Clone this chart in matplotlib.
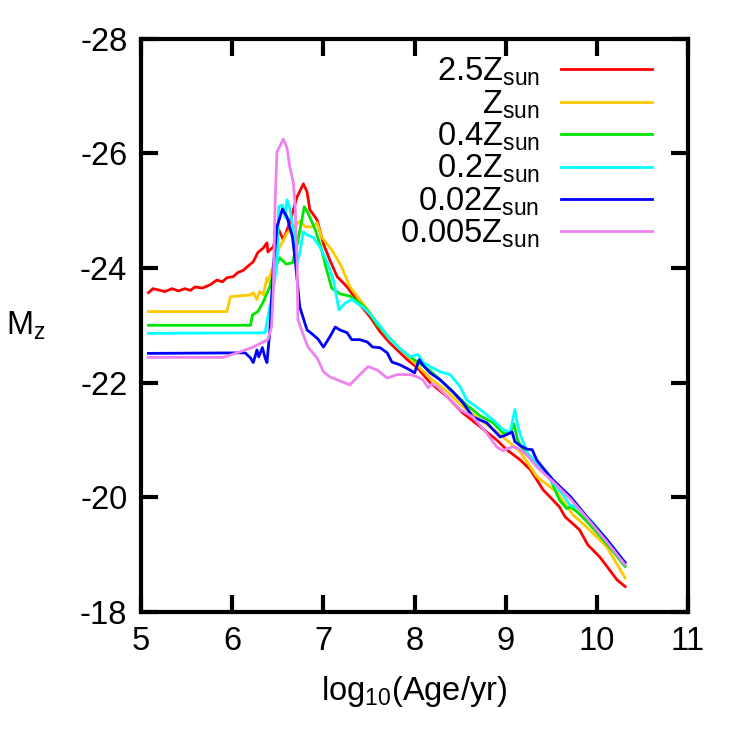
import matplotlib
matplotlib.use('Agg')
import matplotlib.pyplot as plt

plt.rcParams.update({
    'font.family': 'Liberation Sans',
    'font.size': 23.5,
    'mathtext.fontset': 'custom',
    'mathtext.rm': 'Liberation Sans',
    'mathtext.it': 'Liberation Sans',
    'axes.unicode_minus': False,
})

# metallicity labels and colours (gnuplot-like)
labels = ['2.5Z$_{\\rm sun}$', 'Z$_{\\rm sun}$', '0.4Z$_{\\rm sun}$',
          '0.2Z$_{\\rm sun}$', '0.02Z$_{\\rm sun}$', '0.005Z$_{\\rm sun}$']
colors = ['#ff0000', '#ffc800', '#00e600', '#00ffff', '#0000ff', '#ee82ee']

# 2.5 Zsun
x_z25 = [5.08, 5.13, 5.26, 5.34, 5.41, 5.48, 5.54, 5.59, 5.67, 5.76, 5.83, 5.89, 5.94,
         6.01, 6.06, 6.12, 6.17, 6.23, 6.28, 6.34, 6.38, 6.39, 6.45, 6.50, 6.56, 6.63,
         6.71, 6.78, 6.82, 6.85, 6.93, 7.00, 7.07, 7.15, 7.26, 7.40, 7.51, 7.62, 7.73,
         7.92, 8.03, 8.17, 8.36, 8.53, 8.72, 8.90, 9.01, 9.16, 9.27, 9.41, 9.59, 9.65,
         9.81, 9.90, 10.03, 10.14, 10.22, 10.25, 10.31]
m_z25 = [-23.57, -23.64, -23.59, -23.64, -23.60, -23.64, -23.61, -23.67, -23.65, -23.71,
         -23.79, -23.76, -23.83, -23.85, -23.92, -23.96, -24.03, -24.11, -24.27, -24.35,
         -24.44, -24.28, -24.37, -24.70, -24.49, -24.79, -25.24, -25.47, -25.33, -25.02,
         -24.84, -24.42, -24.14, -23.85, -23.67, -23.36, -23.15, -22.89, -22.69, -22.40,
         -22.26, -22.00, -21.75, -21.47, -21.23, -21.00, -20.83, -20.65, -20.48, -20.13,
         -19.83, -19.66, -19.43, -19.17, -18.96, -18.73, -18.56, -18.52, -18.44]

# 1 Zsun
x_z1 = [5.08, 5.94, 5.98, 6.20, 6.23, 6.27, 6.30, 6.34, 6.38, 6.39, 6.44, 6.49, 6.60,
        6.71, 6.74, 6.80, 6.89, 6.93, 6.98, 7.09, 7.20, 7.29, 7.40, 7.51, 7.62, 7.73,
        7.92, 8.17, 8.36, 8.53, 8.72, 8.90, 9.01, 9.16, 9.34, 9.56, 9.74, 9.92, 10.11,
        10.31]
m_z1 = [-23.24, -23.24, -23.50, -23.53, -23.57, -23.45, -23.59, -23.53, -23.83, -23.76,
        -24.00, -24.27, -24.61, -24.77, -24.82, -24.72, -24.72, -24.79, -24.54, -24.32,
        -24.02, -23.67, -23.45, -23.22, -22.97, -22.75, -22.47, -22.08, -21.84, -21.58,
        -21.35, -21.14, -21.00, -20.79, -20.36, -20.09, -19.69, -19.43, -19.13, -18.59]

# 0.4 Zsun
x_z04 = [5.08, 6.20, 6.22, 6.28, 6.34, 6.41, 6.47, 6.52, 6.59, 6.66, 6.71, 6.79, 6.83,
         6.91, 6.98, 7.03, 7.09, 7.18, 7.29, 7.40, 7.48, 7.59, 7.70, 7.84, 7.95, 8.06,
         8.17, 8.28, 8.42, 8.57, 8.72, 8.86, 8.97, 9.05, 9.09, 9.13, 9.21, 9.32, 9.48,
         9.54, 9.59, 9.67, 9.71, 9.78, 9.87, 10.03, 10.18, 10.31]
m_z04 = [-23.00, -23.00, -23.18, -23.24, -23.41, -23.67, -24.02, -24.18, -24.07, -24.09,
         -24.40, -25.07, -24.96, -24.67, -24.32, -24.00, -23.65, -23.55, -23.51, -23.39,
         -23.27, -23.01, -22.82, -22.59, -22.45, -22.33, -22.21, -22.05, -21.84, -21.61,
         -21.42, -21.30, -21.12, -21.12, -21.28, -21.00, -20.77, -20.62, -20.36, -20.13,
         -19.95, -19.80, -19.83, -19.75, -19.61, -19.33, -19.05, -18.79]

# 0.2 Zsun
x_z02 = [5.08, 6.36, 6.39, 6.45, 6.49, 6.51, 6.55, 6.58, 6.60, 6.63, 6.67, 6.71, 6.74,
         6.78, 6.82, 6.89, 6.96, 7.04, 7.11, 7.17, 7.24, 7.31, 7.43, 7.51, 7.62, 7.73,
         7.84, 7.95, 8.04, 8.09, 8.17, 8.28, 8.39, 8.50, 8.57, 8.72, 8.86, 8.97, 9.05,
         9.10, 9.13, 9.17, 9.24, 9.34, 9.52, 9.63, 9.70, 9.79, 9.96, 10.14, 10.31]
m_z02 = [-22.86, -22.87, -23.15, -23.62, -24.06, -25.07, -25.10, -24.88, -25.19, -25.05,
         -24.67, -24.06, -24.27, -24.63, -24.58, -24.53, -24.37, -24.11, -23.79, -23.27,
         -23.39, -23.45, -23.32, -23.20, -22.99, -22.76, -22.59, -22.45, -22.49, -22.36,
         -22.28, -22.19, -22.14, -21.93, -21.70, -21.53, -21.35, -21.18, -21.14, -21.53,
         -21.26, -21.05, -20.77, -20.60, -20.25, -20.04, -19.87, -19.81, -19.55, -19.20,
         -18.84]

# 0.02 Zsun
x_z002 = [5.08, 6.14, 6.20, 6.23, 6.27, 6.29, 6.33, 6.36, 6.38, 6.41, 6.45, 6.49, 6.55,
          6.60, 6.66, 6.69, 6.72, 6.74, 6.82, 6.89, 6.94, 7.00, 7.07, 7.13, 7.18, 7.26,
          7.31, 7.40, 7.48, 7.54, 7.62, 7.70, 7.75, 7.84, 7.95, 8.00, 8.05, 8.09, 8.17,
          8.28, 8.42, 8.53, 8.64, 8.79, 8.94, 9.01, 9.07, 9.10, 9.16, 9.23, 9.29, 9.34,
          9.41, 9.52, 9.71, 9.89, 10.11, 10.31]
m_z002 = [-22.51, -22.52, -22.43, -22.35, -22.57, -22.45, -22.61, -22.43, -22.35, -22.87,
          -24.02, -24.72, -25.03, -24.89, -24.54, -24.14, -23.65, -23.32, -22.92, -22.83,
          -22.76, -22.62, -22.80, -22.97, -22.92, -22.87, -22.75, -22.75, -22.71, -22.62,
          -22.61, -22.52, -22.36, -22.31, -22.22, -22.17, -22.40, -22.31, -22.17, -22.05,
          -21.84, -21.65, -21.40, -21.30, -21.05, -21.09, -21.14, -20.97, -20.90, -20.84,
          -20.83, -20.65, -20.51, -20.30, -20.01, -19.66, -19.26, -18.86]

# 0.005 Zsun
x_z0005 = [5.08, 5.90, 6.09, 6.23, 6.34, 6.39, 6.43, 6.45, 6.47, 6.49, 6.52, 6.56, 6.60,
           6.63, 6.67, 6.69, 6.71, 6.72, 6.78, 6.83, 6.93, 7.00, 7.07, 7.15, 7.29, 7.40,
           7.49, 7.59, 7.70, 7.81, 7.95, 8.03, 8.09, 8.15, 8.19, 8.25, 8.36, 8.50, 8.64,
           8.79, 8.90, 8.97, 9.07, 9.13, 9.23, 9.34, 9.52, 9.71, 9.89, 10.11, 10.31]
m_z0005 = [-22.44, -22.44, -22.54, -22.62, -22.71, -22.75, -22.97, -23.62, -25.19, -26.03,
           -26.12, -26.25, -26.10, -25.77, -25.49, -25.07, -24.14, -23.10, -22.83, -22.62,
           -22.43, -22.19, -22.10, -22.05, -21.96, -22.14, -22.28, -22.22, -22.08, -22.14,
           -22.14, -22.10, -22.05, -21.91, -21.98, -21.93, -21.75, -21.53, -21.40, -21.12,
           -20.88, -20.81, -20.88, -20.86, -20.74, -20.53, -20.27, -19.97, -19.64, -19.22,
           -18.82]

series = [(x_z25, m_z25), (x_z1, m_z1), (x_z04, m_z04),
          (x_z02, m_z02), (x_z002, m_z002), (x_z0005, m_z0005)]

fig = plt.figure(figsize=(7.47, 7.47), dpi=100)
ax = fig.add_axes([0.189, 0.181, 0.732, 0.767])

for (xs, ys), lab, col in zip(series, labels, colors):
    ax.plot(xs, ys, color=col, linewidth=2, label=lab)

ax.set_xlim(5, 11)
ax.set_ylim(-18, -28)
ax.set_xticks(range(5, 12))
ax.set_yticks(range(-28, -17, 2))

for s in ax.spines.values():
    s.set_linewidth(3)
ax.tick_params(direction='in', length=12, width=3, top=True, right=True, pad=10)

ax.set_xlabel('log$_{10}$(Age/yr)')
ax.xaxis.set_label_coords(0.5, -0.108)
ax.set_ylabel('M$_z$', rotation=0, va='center', ha='center')
ax.yaxis.set_label_coords(-0.21, 0.5)

ax.legend(loc='upper right', bbox_to_anchor=(1.0, 1.033), frameon=False,
          markerfirst=False, handlelength=2.8, handletextpad=0.65,
          labelspacing=0.0, borderaxespad=0.7)

fig.savefig('out.png', dpi=100)
